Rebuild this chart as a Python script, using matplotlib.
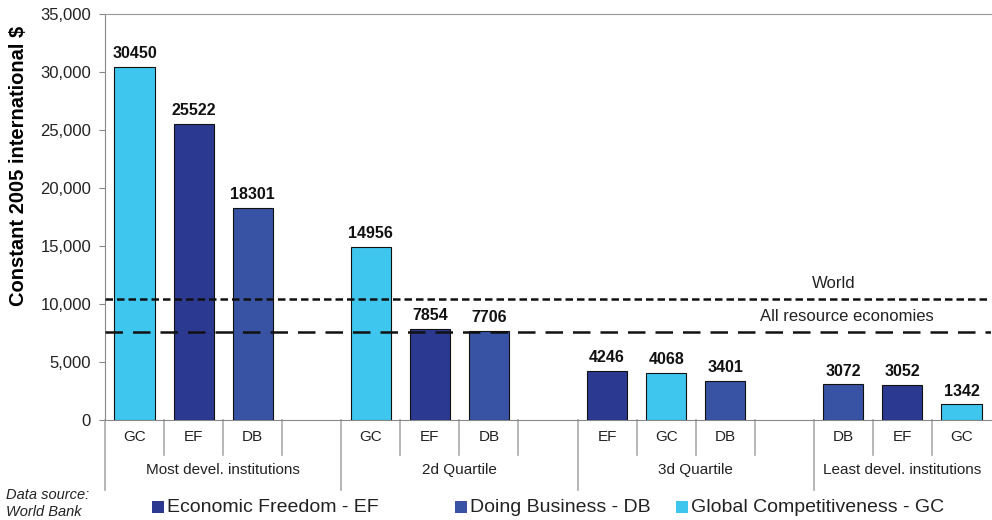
import numpy as np
import matplotlib.pyplot as plt
from matplotlib.patches import Rectangle
import matplotlib.transforms as mtransforms

# data
groups = ['Most devel. institutions', '2d Quartile', '3d Quartile', 'Least devel. institutions']
group_codes = [['GC', 'EF', 'DB', ''], ['GC', 'EF', 'DB', ''], ['EF', 'GC', 'DB', ''], ['DB', 'EF', 'GC']]
group_values = [[30450, 25522, 18301], [14956, 7854, 7706], [4246, 4068, 3401], [3072, 3052, 1342]]
world = 10400
resource = 7600
colors = {'EF': '#2b3990', 'DB': '#3853a4', 'GC': '#3ec6ee'}
legend_names = {'EF': 'Economic Freedom - EF', 'DB': 'Doing Business - DB', 'GC': 'Global Competitiveness - GC'}

plt.rcParams['font.family'] = ['Liberation Sans', 'DejaVu Sans']

fig = plt.figure(figsize=(9.92, 5.2), dpi=100)
ax = fig.add_axes([105 / 992, 100 / 520, 886 / 992, 406 / 520])

# bars
slot = 0
for codes, vals in zip(group_codes, group_values):
    for i, code in enumerate(codes):
        if i < len(vals):
            ax.bar(slot, vals[i], width=0.68, color=colors[code], edgecolor='#111111', linewidth=0.8, zorder=3)
            ax.text(slot, vals[i] + 500, str(vals[i]), ha='center', va='bottom', fontsize=11.5,
                    fontweight='bold', color='#111111')
        slot += 1
n_slots = slot

ax.set_xlim(-0.5, n_slots - 0.5)
ax.set_ylim(0, 35000)
ax.set_yticks(np.arange(0, 35001, 5000))
ax.set_yticklabels([f'{v:,}' for v in range(0, 35001, 5000)], fontsize=12, color='#222222')
ax.set_xticks([])
ax.tick_params(axis='y', length=4, color='#888888', pad=6)
ax.set_ylabel('Constant 2005 international $', fontsize=14.5, fontweight='bold')
ax.yaxis.set_label_coords(-0.087, 0.626)

ax.spines['right'].set_visible(False)
ax.spines['top'].set_color('#999999')
ax.spines['left'].set_color('#888888')
ax.spines['bottom'].set_color('#888888')

# reference lines
ax.axhline(world, color='#111111', linestyle=(0, (3, 1.6)), linewidth=1.8, zorder=4)
ax.axhline(resource, color='#111111', linestyle=(0, (7, 4)), linewidth=1.8, zorder=4)
ax.text(11.84, world + 700, 'World', ha='center', va='bottom', fontsize=12, color='#222222')
ax.text(12.06, resource + 700, 'All resource economies', ha='center', va='bottom', fontsize=12, color='#222222')

# category axis
trans = mtransforms.blended_transform_factory(ax.transData, fig.transFigure)
slot = 0
for gi, (grp, codes) in enumerate(zip(groups, group_codes)):
    start = slot
    for code in codes:
        ax.text(slot, 1 - 437 / 520, code, transform=trans, ha='center', va='center', fontsize=11, color='#222222')
        if slot > start:
            ax.add_line(plt.Line2D([slot - 0.5, slot - 0.5], [1 - 420 / 520, 1 - 455 / 520], transform=trans,
                                   color='#aaaaaa', linewidth=1.2, clip_on=False))
        slot += 1
    ax.add_line(plt.Line2D([start - 0.5, start - 0.5], [1 - 420 / 520, 1 - 490 / 520], transform=trans,
                           color='#aaaaaa', linewidth=1.2, clip_on=False))
    center = (start - 0.5 + slot - 0.5) / 2 if gi < 3 else (start + slot - 1) / 2
    ax.text(center, 1 - 470 / 520, grp, transform=trans, ha='center', va='center', fontsize=11, color='#222222')

# legend
fig.text(6 / 992, 1 - 495 / 520, 'Data source:', fontsize=10.5, style='italic', color='#222222', va='center')
fig.text(6 / 992, 1 - 512 / 520, 'World Bank', fontsize=10.5, style='italic', color='#222222', va='center')
leg_x = [152, 455, 676]
for x, code in zip(leg_x, ['EF', 'DB', 'GC']):
    fig.patches.append(Rectangle((x / 992, 1 - 513 / 520), 12 / 992, 12 / 520, transform=fig.transFigure,
                                 facecolor=colors[code], edgecolor='none'))
    fig.text((x + 15) / 992, 1 - 507 / 520, legend_names[code], fontsize=14, color='#222222', va='center')

fig.savefig('out.png', dpi=100)
